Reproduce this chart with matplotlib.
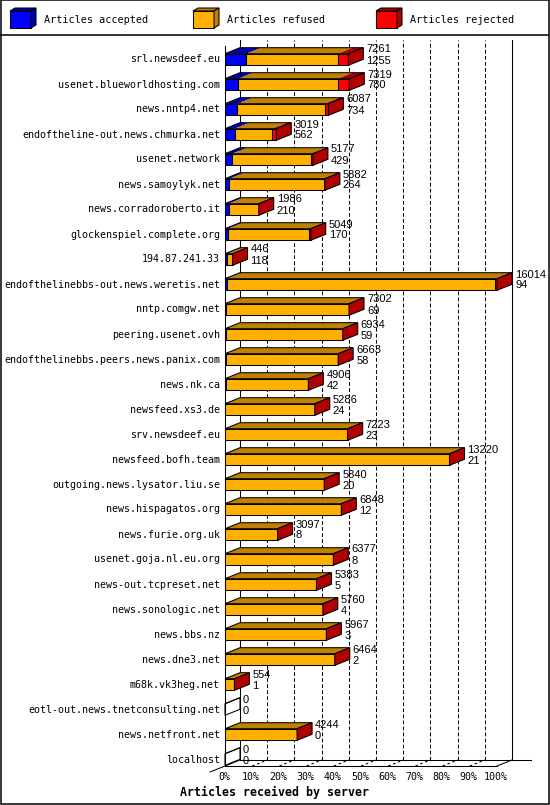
import matplotlib
matplotlib.use('Agg')
import matplotlib.pyplot as plt
from matplotlib.patches import Polygon, Rectangle
from matplotlib.lines import Line2D

# data (top number = articles offered, bottom = accepted)
hosts = ['srl.newsdeef.eu', 'usenet.blueworldhosting.com', 'news.nntp4.net',
         'endoftheline-out.news.chmurka.net', 'usenet.network', 'news.samoylyk.net',
         'news.corradoroberto.it', 'glockenspiel.complete.org', '194.87.241.33',
         'endofthelinebbs-out.news.weretis.net', 'nntp.comgw.net', 'peering.usenet.ovh',
         'endofthelinebbs.peers.news.panix.com', 'news.nk.ca', 'newsfeed.xs3.de',
         'srv.newsdeef.eu', 'newsfeed.bofh.team', 'outgoing.news.lysator.liu.se',
         'news.hispagatos.org', 'news.furie.org.uk', 'usenet.goja.nl.eu.org',
         'news-out.tcpreset.net', 'news.sonologic.net', 'news.bbs.nz', 'news.dne3.net',
         'm68k.vk3heg.net', 'eotl-out.news.tnetconsulting.net', 'news.netfront.net',
         'localhost']
totals = [7261, 7319, 6087, 3019, 5177, 5882, 1986, 5049, 446, 16014, 7302, 6934,
          6663, 4906, 5286, 7223, 13220, 5840, 6848, 3097, 6377, 5383, 5760, 5967,
          6464, 554, 0, 4244, 0]
accepted = [1255, 780, 734, 562, 429, 264, 210, 170, 118, 94, 69, 59, 58, 42, 24,
            23, 21, 20, 12, 8, 8, 5, 4, 3, 2, 1, 0, 0, 0]
# rejected counts estimated from the width of the red slices
rejected = [630, 690, 220, 240, 90, 30, 0, 100, 30, 90, 0, 0, 20, 0, 0, 50, 10,
            0, 0, 0, 0, 0, 0, 0, 0, 0, 0, 0, 0]

series = ['Articles accepted', 'Articles refused', 'Articles rejected']
pct_ticks = [0, 10, 20, 30, 40, 50, 60, 70, 80, 90, 100]

front_colors = ['#0000ff', '#ffb000', '#ff0000']
dark_colors = ['#0000b0', '#c08000', '#b00000']

mono = ['DejaVu Sans Mono']
sans = ['Liberation Sans', 'DejaVu Sans']
LW = 0.75

W, H = 550, 805
fig = plt.figure(figsize=(W / 100, H / 100), dpi=100)
fig.patch.set_facecolor('white')

# frame, legend strip
deco = fig.add_axes([0, 0, 1, 1])
deco.set_xlim(0, W)
deco.set_ylim(H, 0)
deco.axis('off')
deco.add_patch(Rectangle((0.5, 0.5), 548, 803, fill=False, ec='black', lw=1.1))
deco.add_line(Line2D([0, 548], [35, 35], color='black', lw=1.1))
for k, (name, x0) in enumerate(zip(series, [10, 193, 376])):
    deco.add_patch(Rectangle((x0, 11), 21, 17, fc=front_colors[k], ec='black', lw=LW))
    deco.add_patch(Polygon([(x0, 11), (x0 + 5, 8), (x0 + 26, 8), (x0 + 21, 11)],
                           fc=dark_colors[k], ec='black', lw=LW))
    deco.add_patch(Polygon([(x0 + 21, 11), (x0 + 26, 8), (x0 + 26, 25), (x0 + 21, 28)],
                           fc=dark_colors[k], ec='black', lw=LW))
    deco.text(x0 + 34, 20, name, family=mono, fontsize=7.3, va='center', ha='left')

# main plot, front plane of the 3d box
ax = fig.add_axes([225 / W, (H - 766) / H, 272 / W, 720 / H])
ax.set_xlim(0, 100)
ax.set_ylim(-0.54 + 720 / 25, -0.54)
ax.axis('off')

inv = ax.transData.inverted()
o = ax.transData.transform((0, 0))
dx, dy = inv.transform(o + (15, 6)) - inv.transform(o)
ext = (inv.transform(o + (19, 0)) - inv.transform(o))[0]
h = 5.8 / 25

ybot, ytop = ax.get_ylim()

# walls and floor
for p in pct_ticks[1:-1]:
    ax.add_line(Line2D([p + dx, p + dx], [ybot + dy, ytop + dy], color='black', lw=LW,
                       ls=(0, (3.6, 2.2)), zorder=1, clip_on=False))
    ax.add_line(Line2D([p, p + dx], [ybot, ybot + dy], color='black', lw=LW,
                       ls=(0, (2.5, 2.5)), zorder=1, clip_on=False))
lines = [([0, 0], [ybot, ytop]),
         ([dx, dx], [ybot + dy, ytop + dy]),
         ([100 + dx, 100 + dx], [ybot + dy, ytop + dy]),
         ([0, 100], [ybot, ybot]),
         ([dx, 100 + dx + ext], [ybot + dy, ybot + dy]),
         ([-dx, dx], [ybot - dy, ybot + dy]),
         ([100, 100 + dx], [ybot, ybot + dy])]
for xs, ys in lines:
    ax.add_line(Line2D(xs, ys, color='black', lw=LW, zorder=2, clip_on=False))

for p in pct_ticks:
    ax.annotate(f'{p}%', (p, ybot), xytext=(-1, -11), textcoords='offset pixels',
                ha='center', va='center', family=mono, fontsize=7.2)

scale = 100 / max(totals)
for i, (tot, acc, rej) in enumerate(zip(totals, accepted, rejected)):
    parts = [acc, tot - acc - rej, rej]
    y0, y1 = i - h, i + h
    x = 0
    for k, v in enumerate(parts):
        w = v * scale
        if w <= 0:
            continue
        ax.add_patch(Rectangle((x, y0), w, 2 * h, fc=front_colors[k], ec='black',
                               lw=LW, zorder=3, clip_on=False))
        ax.add_patch(Polygon([(x, y0), (x + w, y0), (x + w + dx, y0 + dy), (x + dx, y0 + dy)],
                             fc=dark_colors[k], ec='none', zorder=3, clip_on=False))
        x += w
    xe = tot * scale
    ax.add_patch(Polygon([(0, y0), (xe, y0), (xe + dx, y0 + dy), (dx, y0 + dy)],
                         fill=False, ec='black', lw=LW, zorder=4, clip_on=False))
    ax.add_patch(Polygon([(xe, y0), (xe + dx, y0 + dy), (xe + dx, y1 + dy), (xe, y1)],
                         fc=dark_colors[2] if tot else 'none', ec='black', lw=LW,
                         zorder=4, clip_on=False))
    ax.annotate(str(tot), (xe, i), xytext=(18, 10), textcoords='offset pixels',
                ha='left', va='center', family=sans, fontsize=8, zorder=5)
    ax.annotate(str(acc), (xe, i), xytext=(18, -1), textcoords='offset pixels',
                ha='left', va='center', family=sans, fontsize=8, zorder=5)
    ax.annotate(hosts[i], (0, i), xytext=(-5, 0), textcoords='offset pixels',
                ha='right', va='center', family=mono, fontsize=7.2)

fig.text(180 / W, (H - 792) / H, 'Articles received by server', family=mono,
         fontweight='bold', fontsize=8.4, ha='left', va='center')

fig.savefig('out.png', dpi=100, facecolor='white')
